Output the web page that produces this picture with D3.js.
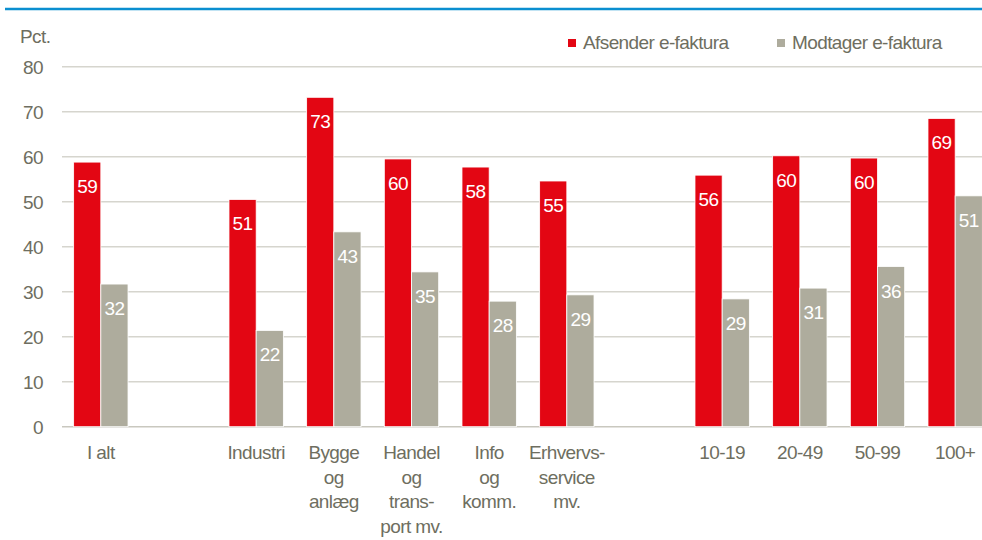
<!DOCTYPE html>
<html>
<head>
<meta charset="utf-8">
<script src="https://cdn.jsdelivr.net/npm/d3@7"></script>
<style>
  body { margin: 0; background: #fff; }
  text { font-family: "Liberation Sans", Arial, sans-serif; letter-spacing: -0.6px; }
</style>
</head>
<body>
<div class="svg_area"></div>
<script>
// Data (blank slots are gaps between groups)
var categories = ["I alt", "", "Industri", "Bygge\nog\nanlæg", "Handel\nog\ntrans-\nport mv.",
  "Info\nog\nkomm.", "Erhvervs-\nservice\nmv.", "", "10-19", "20-49", "50-99", "100+"];
var afsender = [58.8, null, 50.5, 73.2, 59.5, 57.7, 54.6, null, 55.9, 60.2, 59.7, 68.5];
var modtager = [31.7, null, 21.4, 43.3, 34.4, 27.9, 29.3, null, 28.4, 30.8, 35.6, 51.3];
var afsenderLabels = ["59", "", "51", "73", "60", "58", "55", "", "56", "60", "60", "69"];
var modtagerLabels = ["32", "", "22", "43", "35", "28", "29", "", "29", "31", "36", "51"];
var seriesNames = ["Afsender e-faktura", "Modtager e-faktura"];
var yTicks = [0, 10, 20, 30, 40, 50, 60, 70, 80];

var svgWidth = 982;
var svgHeight = 540;

var red = "#e30613";
var grey = "#aeac9d";
var textColor = "#6e6e60";
var fontSize = 19;

var svg = d3.select(".svg_area")
  .append("svg")
  .attr("width", svgWidth)
  .attr("height", svgHeight);

// blue rule on top
svg.append("line")
  .attr("x1", 5).attr("x2", svgWidth)
  .attr("y1", 9).attr("y2", 9)
  .attr("stroke", "#0b8fd0")
  .attr("stroke-width", 2.5);

// scales
var x0 = d3.scaleBand()
  .domain(d3.range(categories.length))
  .range([62, 994])
  .paddingInner(0.3)
  .paddingOuter(0.15);

var x1 = d3.scaleBand()
  .domain([0, 1])
  .range([0, x0.bandwidth()]);

var y = d3.scaleLinear()
  .domain([0, 80])
  .range([426.7, 66.7]);

// gridlines
svg.append("g")
  .selectAll("line")
  .data(yTicks)
  .enter()
  .append("line")
  .attr("x1", 62)
  .attr("x2", svgWidth)
  .attr("y1", d => y(d))
  .attr("y2", d => y(d))
  .attr("stroke", d => d === 0 ? "#c9c8bf" : "#d6d5ce")
  .attr("stroke-width", 1.6);

// y axis labels
var leftAxis = d3.axisLeft(y).tickValues(yTicks).tickSize(0).tickPadding(0);
var yAxis = svg.append("g")
  .attr("transform", "translate(43, 0)")
  .call(leftAxis);
yAxis.select(".domain").remove();
yAxis.selectAll("text")
  .attr("fill", textColor)
  .attr("font-size", fontSize)
  .attr("dy", "0.37em")
  .style("font-family", null);
yAxis.attr("font-family", null).attr("font-size", null);

svg.append("text")
  .attr("x", 20)
  .attr("y", 43)
  .attr("fill", textColor)
  .attr("font-size", fontSize)
  .text("Pct.");

// bars
var rows = categories.map(function(c, i) {
  return { i: i, vals: [afsender[i], modtager[i]], labels: [afsenderLabels[i], modtagerLabels[i]] };
}).filter(d => d.vals[0] !== null);

var groups = svg.append("g")
  .selectAll("g")
  .data(rows)
  .enter()
  .append("g")
  .attr("transform", d => `translate(${x0(d.i)}, 0)`);

groups.selectAll("rect")
  .data(d => d.vals.map((v, k) => ({ k: k, v: v })))
  .enter()
  .append("rect")
  .attr("x", d => x1(d.k))
  .attr("width", x1.bandwidth())
  .attr("y", d => y(d.v))
  .attr("height", d => y(0) - y(d.v))
  .attr("fill", d => d.k === 0 ? red : grey)
  .attr("stroke", "#fff")
  .attr("stroke-width", 0.8);

groups.selectAll("text")
  .data(d => d.vals.map((v, k) => ({ k: k, v: v, label: d.labels[k] })))
  .enter()
  .append("text")
  .attr("x", d => x1(d.k) + x1.bandwidth() / 2)
  .attr("y", d => y(d.v) + 31)
  .attr("text-anchor", "middle")
  .attr("fill", "#fff")
  .attr("font-size", fontSize)
  .text(d => d.label);

// category labels
var xLabels = svg.append("g")
  .selectAll("text")
  .data(categories.map((c, i) => ({ c: c, i: i })).filter(d => d.c !== ""))
  .enter()
  .append("text")
  .attr("x", d => x0(d.i) + x0.bandwidth() / 2)
  .attr("y", 459)
  .attr("text-anchor", "middle")
  .attr("fill", textColor)
  .attr("font-size", fontSize);

xLabels.selectAll("tspan")
  .data(d => d.c.split("\n"))
  .enter()
  .append("tspan")
  .attr("x", function() { return d3.select(this.parentNode).attr("x"); })
  .attr("dy", (d, k) => k === 0 ? 0 : 24.5)
  .text(d => d);

// legend
var legendX = [568, 777];
var legend = svg.append("g")
  .selectAll("g")
  .data(seriesNames)
  .enter()
  .append("g")
  .attr("transform", (d, k) => `translate(${legendX[k]}, 39)`);

legend.append("rect")
  .attr("width", 8)
  .attr("height", 8)
  .attr("fill", (d, k) => k === 0 ? red : grey);

legend.append("text")
  .attr("x", 15)
  .attr("y", 10)
  .attr("fill", textColor)
  .attr("font-size", fontSize)
  .text(d => d);
</script>
</body>
</html>
